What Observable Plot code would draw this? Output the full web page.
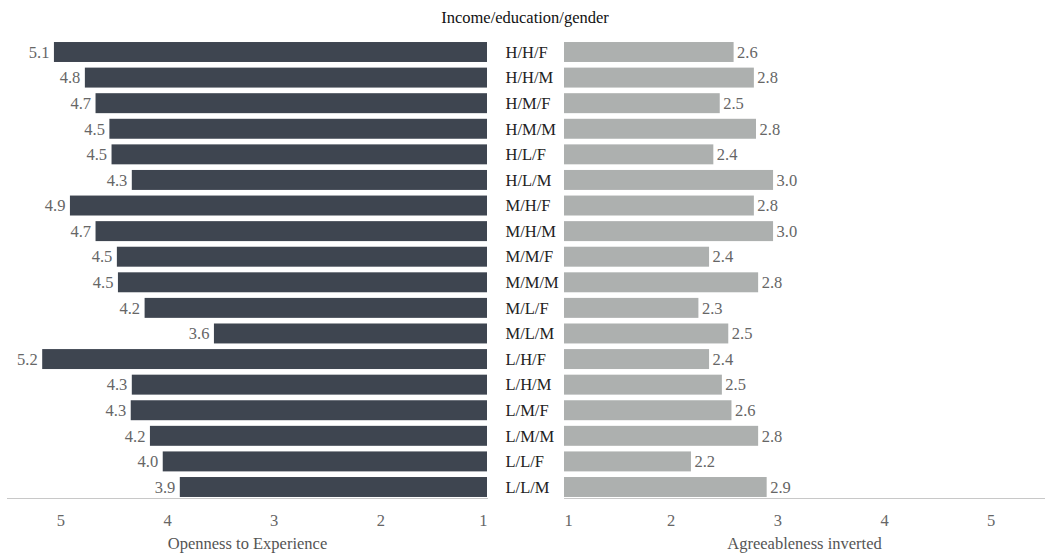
<!DOCTYPE html>
<html>
<head>
<meta charset="utf-8">
<script src="https://cdn.jsdelivr.net/npm/d3@7"></script>
<script src="https://cdn.jsdelivr.net/npm/@observablehq/plot@0.6"></script>
<style>
  html, body { margin: 0; padding: 0; background: #fff; }
  #wrap { position: relative; width: 1048px; height: 558px; font-family: "Liberation Serif", "Times New Roman", serif; }
  #title { position: absolute; left: 1px; top: 8px; width: 1048px; text-align: center; font-size: 16.5px; line-height: 20px; color: #111; }
  #left { position: absolute; left: 0; top: 30px; }
  #right { position: absolute; left: 487px; top: 30px; }
  svg { overflow: visible; }
  svg text { font-family: "Liberation Serif", "Times New Roman", serif; }
</style>
</head>
<body>
<div id="wrap">
  <div id="title">Income/education/gender</div>
  <div id="left"></div>
  <div id="right"></div>
</div>
<script>
const categories = ["H/H/F","H/H/M","H/M/F","H/M/M","H/L/F","H/L/M","M/H/F","M/H/M","M/M/F","M/M/M","M/L/F","M/L/M","L/H/F","L/H/M","L/M/F","L/M/M","L/L/F","L/L/M"];
const openness = [5.06,4.77,4.67,4.54,4.52,4.33,4.91,4.67,4.47,4.46,4.21,3.56,5.17,4.33,4.34,4.16,4.04,3.88];
const agreeablenessInv = [2.59,2.78,2.46,2.80,2.40,2.96,2.78,2.96,2.36,2.82,2.26,2.54,2.36,2.48,2.57,2.82,2.19,2.90];
const tickValues = [1,2,3,4,5];
const leftTitle = "Openness to Experience";
const rightTitle = "Agreeableness inverted";

const rows = categories.map((c, i) => ({cat: c, o: openness[i], a: agreeablenessInv[i]}));
const font = "Liberation Serif, Times New Roman, serif";
const fs = 16.5;
const H = 528;

function panel({value, color, reverse, width, marginLeft, marginRight, labelDx, labelAnchor, flushAnchor, title, withCats}) {
  const t = {fontFamily: font, fontSize: fs, fontWeight: "normal"};
  const marks = [
    Plot.frame({anchor: "bottom", stroke: "#c8c8c8"}),
    Plot.barX(rows, {y: "cat", x1: 1, x2: value, fill: color}),
    Plot.text(rows, {...t, y: "cat", x: value, text: d => d[value].toFixed(1), textAnchor: labelAnchor, dx: labelDx, fill: "#666"}),
    Plot.text(tickValues.filter(v => v !== 1), {...t, x: d => d, frameAnchor: "bottom", lineAnchor: "top", dy: 16, text: d => String(d), fill: "#666"}),
    Plot.text(tickValues.filter(v => v === 1), {...t, x: d => d, frameAnchor: "bottom", lineAnchor: "top", dy: 16, text: d => String(d), textAnchor: flushAnchor, fill: "#666"}),
    Plot.text([title], {...t, frameAnchor: "bottom", lineAnchor: "top", dy: 39, text: d => d, fill: "#555"})
  ];
  if (withCats) {
    marks.push(Plot.text(rows, {...t, y: "cat", text: "cat", frameAnchor: "left", textAnchor: "start", dx: -59, fill: "#222"}));
  }
  return Plot.plot({
    width, height: H,
    marginLeft, marginRight, marginTop: 11, marginBottom: 60,
    style: {fontFamily: font, fontSize: fs + "px", background: "transparent", overflow: "visible"},
    x: {domain: [1, 5.5], reverse, axis: null},
    y: {domain: categories, paddingInner: 0.22, paddingOuter: 0.04, round: false, axis: null},
    marks
  });
}

document.getElementById("left").append(panel({
  value: "o", color: "#3e4550", reverse: true, width: 487, marginLeft: 7, marginRight: 0,
  labelDx: -5, labelAnchor: "end", flushAnchor: "end", title: leftTitle, withCats: false
}));
document.getElementById("right").append(panel({
  value: "a", color: "#adb0af", reverse: false, width: 561, marginLeft: 77, marginRight: 4,
  labelDx: 3, labelAnchor: "start", flushAnchor: "start", title: rightTitle, withCats: true
}));
</script>
</body>
</html>
